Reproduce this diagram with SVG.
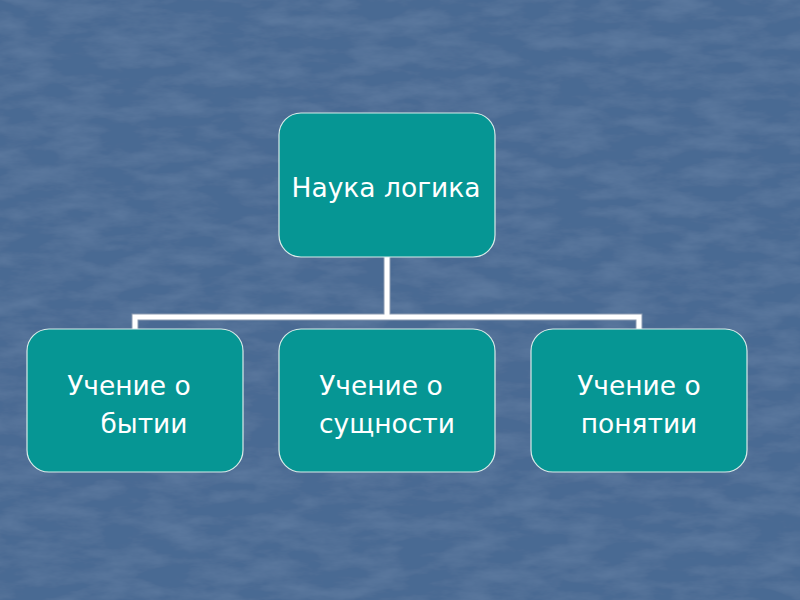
<svg xmlns="http://www.w3.org/2000/svg" width="800" height="600" viewBox="0 0 800 600">
<defs>
<filter id="tex" x="0" y="0" width="100%" height="100%">
<feTurbulence type="fractalNoise" baseFrequency="0.02 0.06" numOctaves="5" seed="7" result="n"/>
<feColorMatrix in="n" type="matrix" values="0 0 0 0 0.36  0 0 0 0 0.48  0 0 0 0 0.64  0 0 0 1.2 -0.45" result="c"/>
<feComposite in="c" in2="SourceGraphic" operator="over"/>
</filter>
</defs>
<style>
.box{fill:#069694;stroke:#d8ece9;stroke-width:1.2}
.t{font-family:"DejaVu Sans","Verdana",sans-serif;font-size:26.5px;fill:#ffffff;text-anchor:middle}
.c{fill:none;stroke:#ffffff;stroke-width:5}
.co{fill:none;stroke:#8a9ab0;stroke-width:7}
</style>
<rect width="800" height="600" fill="#4a6a93"/>
<rect width="800" height="600" fill="#4a6a93" filter="url(#tex)" opacity="0.28"/>
<g id="connectors">
<path class="co" d="M387 257V317M135 329V317H639V329"/>
<path class="c" d="M387 257V317M135 329V317H639V329"/>
</g>
<g id="n-root">
<rect class="box" x="279" y="113" width="216" height="144" rx="22"/>
<text class="t" x="386" y="197">Наука логика</text>
</g>
<g id="n-being">
<rect class="box" x="27" y="329" width="216" height="143" rx="22"/>
<text class="t" x="129" y="395">Учение о</text>
<text class="t" x="144" y="433">бытии</text>
</g>
<g id="n-essence">
<rect class="box" x="279" y="329" width="216" height="143" rx="22"/>
<text class="t" x="381" y="395">Учение о</text>
<text class="t" x="387" y="433">сущности</text>
</g>
<g id="n-concept">
<rect class="box" x="531" y="329" width="216" height="143" rx="22"/>
<text class="t" x="639" y="395">Учение о</text>
<text class="t" x="639" y="433">понятии</text>
</g>
</svg>
